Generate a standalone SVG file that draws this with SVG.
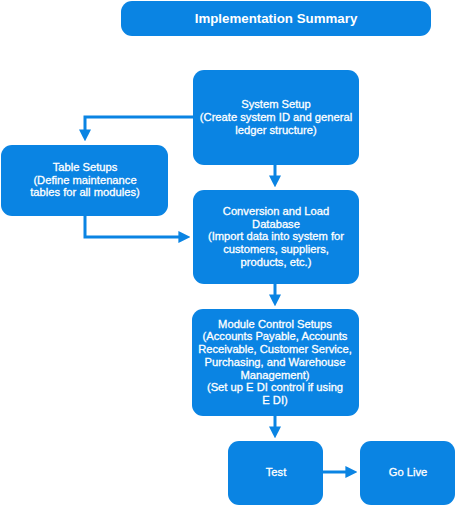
<svg xmlns="http://www.w3.org/2000/svg" width="456" height="507" viewBox="0 0 456 507">
<style>
.box{fill:#0a84e3;}
.t{font-family:"Liberation Sans",Arial,sans-serif;font-size:11.2px;fill:#fff;stroke:#fff;stroke-width:0.3;text-anchor:middle;}
.title{font-family:"Liberation Sans",Arial,sans-serif;font-size:13.3px;font-weight:bold;fill:#fff;text-anchor:middle;}
.c{fill:none;stroke:#0a84e3;stroke-width:3;}
</style>
<defs>
<marker id="ah" markerWidth="4" markerHeight="4" refX="2.2" refY="2" orient="auto" markerUnits="strokeWidth">
<path d="M0,0 L4,2 L0,4 Z" fill="#0a84e3"/>
</marker>
</defs>
<rect width="456" height="507" fill="#fff"/>
<g id="title">
<rect class="box" x="121" y="1" width="310" height="35" rx="11"/>
<text class="title" x="276" y="23">Implementation Summary</text>
</g>
<g id="connectors">
<path class="c" d="M193,117 H85 V136" marker-end="url(#ah)"/>
<path class="c" d="M275,165 V182" marker-end="url(#ah)"/>
<path class="c" d="M85,216 V237 H185" marker-end="url(#ah)"/>
<path class="c" d="M275,284 V301" marker-end="url(#ah)"/>
<path class="c" d="M275,416 V433" marker-end="url(#ah)"/>
<path class="c" d="M323,472 H352" marker-end="url(#ah)"/>
</g>
<g id="system-setup">
<rect class="box" x="193" y="70" width="166" height="95" rx="11"/>
<text class="t" x="276" y="108">System Setup</text>
<text class="t" x="276" y="121">(Create system ID and general</text>
<text class="t" x="276" y="134">ledger structure)</text>
</g>
<g id="table-setups">
<rect class="box" x="1" y="145" width="167" height="71" rx="11"/>
<text class="t" x="85" y="171">Table Setups</text>
<text class="t" x="85" y="184">(Define maintenance</text>
<text class="t" x="85" y="196">tables for all modules)</text>
</g>
<g id="conversion">
<rect class="box" x="193" y="190" width="166" height="94" rx="11"/>
<text class="t" x="276" y="215">Conversion and Load</text>
<text class="t" x="276" y="228">Database</text>
<text class="t" x="276" y="240">(Import data into system for</text>
<text class="t" x="276" y="253">customers, suppliers,</text>
<text class="t" x="276" y="266">products, etc.)</text>
</g>
<g id="module-control">
<rect class="box" x="192" y="309" width="167" height="107" rx="11"/>
<text class="t" x="275" y="328">Module Control Setups</text>
<text class="t" x="275" y="340">(Accounts Payable, Accounts</text>
<text class="t" x="275" y="353">Receivable, Customer Service,</text>
<text class="t" x="275" y="366">Purchasing, and Warehouse</text>
<text class="t" x="275" y="379">Management)</text>
<text class="t" x="275" y="391">(Set up E DI control if using</text>
<text class="t" x="275" y="404">E DI)</text>
</g>
<g id="test">
<rect class="box" x="228" y="441" width="95" height="64" rx="11"/>
<text class="t" x="276" y="476">Test</text>
</g>
<g id="go-live">
<rect class="box" x="360" y="441" width="95" height="64" rx="11"/>
<text class="t" x="408" y="476">Go Live</text>
</g>
</svg>
